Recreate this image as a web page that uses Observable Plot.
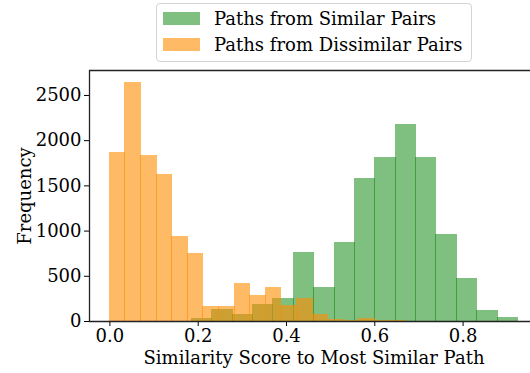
<!DOCTYPE html>
<html><head><meta charset="utf-8">
<script src="https://cdn.jsdelivr.net/npm/d3@7"></script>
<script src="https://cdn.jsdelivr.net/npm/@observablehq/plot@0.6"></script>
<style>
body{margin:0;background:#fff;font-family:"DejaVu Serif",serif;}
#legend{position:relative;width:530px;height:66px;}
.box{position:absolute;left:156px;top:3px;width:314px;height:57px;border:1px solid #d4d4d4;border-radius:4px;background:#fff;}
.sw{position:absolute;left:163px;width:37px;height:13px;}
.lab{position:absolute;left:214px;font-size:18px;line-height:18px;color:#000;white-space:nowrap;}
#chart svg{display:block;}
</style></head><body>
<div id="legend"></div>
<div id="chart"></div>
<script>
// ---- data ----
const seriesNames = ["Paths from Similar Pairs", "Paths from Dissimilar Pairs"];
const seriesColors = ["#008000", "#ff8c00"];
const seriesOpacity = [0.5, 0.6];

const greenEdges = [0.1855, 0.2317, 0.2779, 0.324, 0.3702, 0.4164, 0.4626, 0.5088, 0.555, 0.6011, 0.6473, 0.6935, 0.7397, 0.7859, 0.8321, 0.8782, 0.9244];
const greenCounts = [30, 132, 74, 187, 251, 760, 373, 871, 1582, 1811, 2180, 1811, 959, 472, 120, 40];

const orangeEdges = [0, 0.0353, 0.0707, 0.106, 0.1413, 0.1767, 0.212, 0.2473, 0.2826, 0.318, 0.3533, 0.3886, 0.424, 0.4593, 0.4946, 0.53, 0.5653, 0.6006, 0.6359, 0.6713, 0.7066];
const orangeCounts = [1866, 2640, 1833, 1630, 937, 752, 165, 165, 418, 284, 373, 173, 250, 72, 20, 7, 31, 9, 7, 4];

const xTicks = [0, 0.2, 0.4, 0.6, 0.8];
const yTicks = [0, 500, 1000, 1500, 2000, 2500];
const xDomain = [-0.0462, 0.9527];
const yDomain = [0, 2776];
const xLabel = "Similarity Score to Most Similar Path";
const yLabel = "Frequency";

// ---- legend (HTML, above the SVG) ----
const leg = document.getElementById("legend");
leg.innerHTML = `<div class="box"></div>` + seriesNames.map((n, i) => {
  const c = d3.color(seriesColors[i]); c.opacity = seriesOpacity[i];
  return `<div class="sw" style="top:${12 + i * 25.5}px;background:${c}"></div>` +
         `<div class="lab" style="top:${10 + i * 25.7}px">${n}</div>`;
}).join("");

// ---- chart ----
const rows = (edges, counts) => counts.map((c, i) => ({x1: edges[i], x2: edges[i + 1], y: c}));
const greenRows = rows(greenEdges, greenCounts);
const orangeRows = rows(orangeEdges, orangeCounts);

const spine = {stroke: "#222", strokeWidth: 1.3};

const chart = Plot.plot({
  width: 530,
  height: 307,
  marginTop: 4,
  marginBottom: 52,
  marginLeft: 89,
  marginRight: 0,
  style: {fontFamily: "DejaVu Serif", fontSize: "18px", color: "#000", background: "#fff"},
  x: {domain: xDomain, ticks: xTicks, tickFormat: d3.format(".1f"), tickSize: 5, tickPadding: 3, label: null},
  y: {domain: yDomain, ticks: yTicks, tickFormat: d3.format("d"), tickSize: 5, tickPadding: 3, label: null},
  marks: [
    Plot.rect(greenRows, {x1: "x1", x2: "x2", y1: 0, y2: "y", fill: seriesColors[0], fillOpacity: seriesOpacity[0], insetLeft: -0.5, insetRight: -0.5, shapeRendering: "crispEdges"}),
    Plot.rect(orangeRows, {x1: "x1", x2: "x2", y1: 0, y2: "y", fill: seriesColors[1], fillOpacity: seriesOpacity[1], insetLeft: -0.5, insetRight: -0.5, shapeRendering: "crispEdges"}),
    Plot.ruleY([yDomain[0]], spine),
    Plot.ruleY([yDomain[1]], spine),
    Plot.ruleX([xDomain[0]], spine),
    Plot.text([xLabel], {frameAnchor: "bottom", text: d => d, dy: 42, dx: 4, fill: "#000"}),
    Plot.text([yLabel], {frameAnchor: "left", text: d => d, rotate: -90, textAnchor: "middle", lineAnchor: "middle", dx: -64, fill: "#000"})
  ]
});
document.getElementById("chart").appendChild(chart);
</script>
</body></html>
